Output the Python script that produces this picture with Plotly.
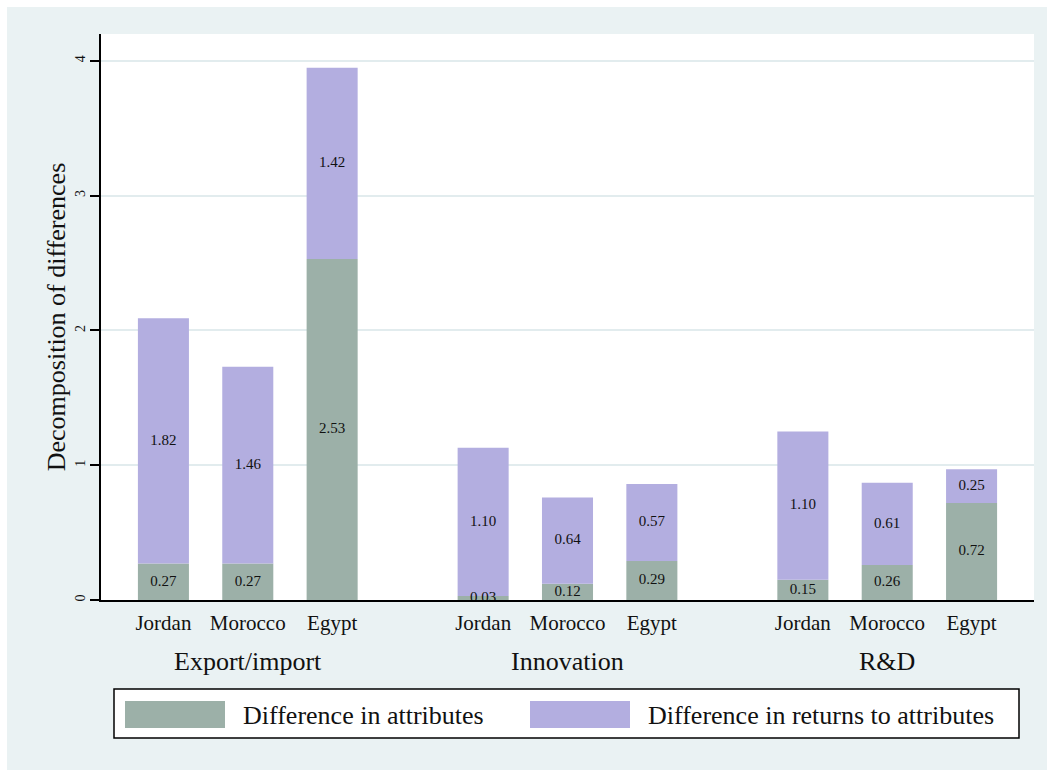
import plotly.graph_objects as go

# Data
groups = ["Export/import", "Innovation", "R&D"]
countries = ["Jordan", "Morocco", "Egypt"]
attributes = [0.27, 0.27, 2.53, 0.03, 0.12, 0.29, 0.15, 0.26, 0.72]
returns = [1.82, 1.46, 1.42, 1.10, 0.64, 0.57, 1.10, 0.61, 0.25]
y_ticks = [0, 1, 2, 3, 4]

# Layout constants
W, H = 1047, 770
L, R, T, B = 101, 13, 34, 170
GROUP_STEP = 3.79
BAR_W = 0.605
GREEN = "#9CB0A8"
LAVENDER = "#B3AEE0"
BG = "#EAF2F3"
FONT = "Times New Roman, Liberation Serif, serif"
INK = "#111111"

xs = [g * GROUP_STEP + i for g in range(len(groups)) for i in range(len(countries))]
xlabels = [c for _ in groups for c in countries]
x_range = [-0.74, 2 * GROUP_STEP + 2 + 0.74]

pw, ph = W - L - R, H - T - B


def px_x(p):
    return (p - L) / pw


def px_y(p):
    return (H - B - p) / ph


fig = go.Figure()
fig.add_trace(go.Bar(x=xs, y=attributes, width=BAR_W, marker=dict(color=GREEN, line_width=0),
                     name="Difference in attributes", showlegend=False))
fig.add_trace(go.Bar(x=xs, y=returns, base=attributes, width=BAR_W,
                     marker=dict(color=LAVENDER, line_width=0),
                     name="Difference in returns to attributes", showlegend=False))

# Segment value labels at the middle of each segment
lab_x = xs + xs
lab_y = [a / 2 for a in attributes] + [a + r / 2 for a, r in zip(attributes, returns)]
lab_t = [f"{v:.2f}" for v in attributes] + [f"{v:.2f}" for v in returns]
fig.add_trace(go.Scatter(x=lab_x, y=lab_y, text=lab_t, mode="text",
                         textfont=dict(family=FONT, size=15, color=INK),
                         showlegend=False, hoverinfo="skip"))

shapes = []
# Outer panel background with thin white margin at top/left
shapes.append(dict(type="rect", xref="paper", yref="paper", layer="below",
                   x0=px_x(7), x1=px_x(W + 5), y0=px_y(H + 5), y1=px_y(7),
                   fillcolor=BG, line_width=0))
# Plot area
shapes.append(dict(type="rect", xref="paper", yref="paper", layer="below",
                   x0=0, x1=1, y0=0, y1=1, fillcolor="white", line_width=0))

# Legend box
shapes.append(dict(type="rect", xref="paper", yref="paper",
                   x0=px_x(114), x1=px_x(1019), y0=px_y(738), y1=px_y(689),
                   fillcolor="white", line=dict(color="black", width=1.5)))
shapes.append(dict(type="rect", xref="paper", yref="paper",
                   x0=px_x(125), x1=px_x(225), y0=px_y(728), y1=px_y(701),
                   fillcolor=GREEN, line_width=0))
shapes.append(dict(type="rect", xref="paper", yref="paper",
                   x0=px_x(530), x1=px_x(630), y0=px_y(728), y1=px_y(701),
                   fillcolor=LAVENDER, line_width=0))

annotations = [
    dict(xref="paper", yref="paper", x=px_x(241), y=px_y(715), xanchor="left", yanchor="middle",
         text="Difference in attributes", showarrow=False, font=dict(family=FONT, size=26, color=INK)),
    dict(xref="paper", yref="paper", x=px_x(646), y=px_y(715), xanchor="left", yanchor="middle",
         text="Difference in returns to attributes", showarrow=False,
         font=dict(family=FONT, size=26, color=INK)),
]
for g, name in enumerate(groups):
    annotations.append(dict(xref="x", yref="paper", x=g * GROUP_STEP + 1, y=px_y(662),
                            xanchor="center", yanchor="middle", text=name, showarrow=False,
                            font=dict(family=FONT, size=26, color=INK)))

fig.update_layout(
    width=W, height=H,
    margin=dict(l=L, r=R, t=T, b=B),
    paper_bgcolor="white", plot_bgcolor="white",
    barmode="overlay",
    shapes=shapes, annotations=annotations,
    font=dict(family=FONT, color=INK),
    xaxis=dict(range=x_range, tickvals=xs, ticktext=xlabels, showgrid=False, zeroline=False,
               showline=True, linecolor="black", linewidth=1.5, ticks="", ticklen=0,
               ticklabelstandoff=3,
               tickfont=dict(family=FONT, size=21, color=INK)),
    yaxis=dict(range=[0, 4.2], tickvals=y_ticks, tickangle=-90, showgrid=True,
               gridcolor="#E2ECEE", gridwidth=2, zeroline=False,
               showline=True, linecolor="black", linewidth=1.5,
               ticks="outside", ticklen=9, tickwidth=1.5, tickcolor="black",
               tickfont=dict(family=FONT, size=14, color=INK),
               title=dict(text="Decomposition of differences", standoff=0,
                          font=dict(family=FONT, size=26, color=INK))),
)

fig.write_html("out.html")
